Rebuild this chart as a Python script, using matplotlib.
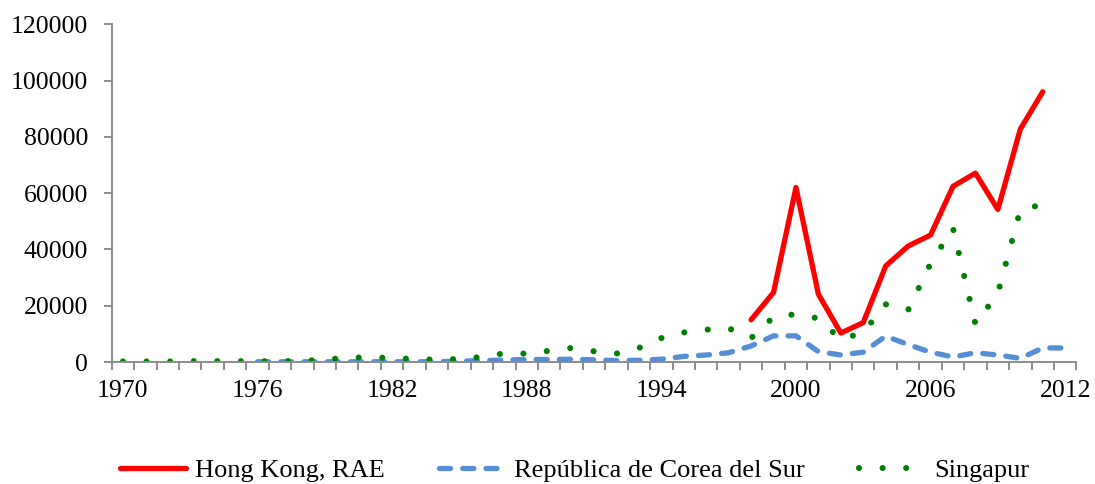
import numpy as np
import matplotlib.pyplot as plt

# data
years_sg = list(range(1970, 2012))
singapur = [200, 200, 200, 300, 300, 300, 300, 300, 400, 900,
            1500, 1700, 1400, 1100, 800, 1100, 1800, 3100, 3000, 4000,
            5000, 3800, 3000, 5000, 8500, 10500, 11500, 12000, 8500, 16000,
            17000, 15500, 8000, 10500, 20500, 18500, 35000, 47500, 13500, 24500,
            54000, 56000]

years_kr = list(range(1976, 2013))
corea = [100, 100, 100, 100, 100, 100, 100, 100, 100, 300,
         500, 700, 900, 900, 1000, 800, 500, 600, 1000, 2000,
         2500, 3300, 5700, 9300, 9300, 3700, 2500, 3500, 9200, 6200,
         3500, 1800, 3300, 2500, 1300, 5000, 5000]

years_hk = list(range(1998, 2012))
hong_kong = [15000, 24700, 62000, 24100, 10300, 14000, 34100, 41200, 45100,
             62400, 67100, 54200, 82700, 96000]

x_labels = list(range(1970, 2013, 6))
y_ticks = list(range(0, 120001, 20000))

plt.rcParams['font.family'] = ['Liberation Serif', 'DejaVu Serif']

fig = plt.figure(figsize=(10.95, 4.84), dpi=100)
ax = fig.add_axes([0.102, 0.252, 0.881, 0.698])

ax.plot(years_hk, hong_kong, color='#FF0000', lw=3.8,
        solid_capstyle='round', solid_joinstyle='round', label='Hong Kong, RAE')
ax.plot(years_kr, corea, color='#558ED5', lw=3.8, dashes=(2.1, 2.3),
        dash_capstyle='round', label='República de Corea del Sur')
ax.plot(years_sg, singapur, color='#008000', lw=4.4, dashes=(0.01, 3.85),
        dash_capstyle='round', label='Singapur')

ax.set_xlim(1969.5, 2012.5)
ax.set_ylim(0, 120000)
ax.set_xticks(x_labels)
ax.set_xticks(np.arange(1969.5, 2013, 1), minor=True)
ax.set_yticks(y_ticks)

for s in ['top', 'right']:
    ax.spines[s].set_visible(False)
for s in ['left', 'bottom']:
    ax.spines[s].set_color('#8c8c8c')
    ax.spines[s].set_linewidth(1.4)

ax.tick_params(axis='x', which='major', length=0, pad=13, labelsize=18.5)
ax.tick_params(axis='x', which='minor', length=6, width=1.4, color='#8c8c8c')
ax.tick_params(axis='y', length=6, width=1.4, color='#8c8c8c', pad=11, labelsize=18.5)

ax.legend(loc='center', bbox_to_anchor=(0.48, -0.32), ncol=3, frameon=False,
          fontsize=19, handlelength=2.5, handletextpad=0.35, columnspacing=2.05)

fig.savefig('out.png', dpi=100)
